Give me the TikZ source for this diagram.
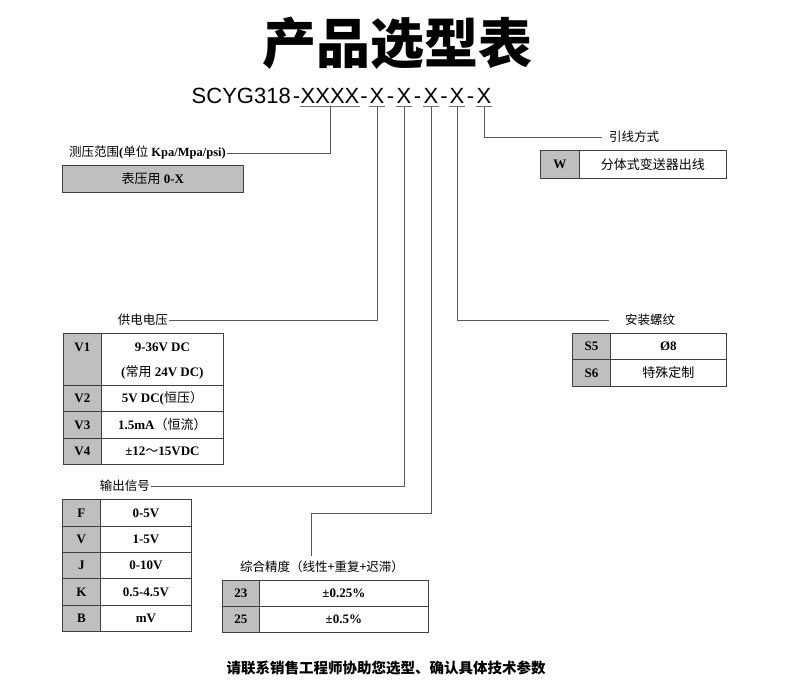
\documentclass[tikz,border=0pt]{standalone}
\usepackage{fontspec}
\setmainfont{Liberation Serif}
\setsansfont{Liberation Sans}
\newfontfamily\cjk{Noto Sans CJK SC}
\newcommand{\zh}[1]{{\cjk\mdseries #1}}
\usepackage{tikz}
\usetikzlibrary{positioning}

\begin{document}
\begin{tikzpicture}[
    x=1pt, y=-1pt,
    cell/.style={draw=black!75, line width=0.8pt, anchor=north west,
                 inner sep=0pt, align=center,
                 font=\bfseries\fontsize{13}{25}\selectfont},
    key/.style={cell, fill=black!25},
    lab/.style={font=\bfseries\fontsize{12.5}{15}\selectfont, inner sep=1pt},
    code/.style={font=\sffamily\fontsize{22}{24}\selectfont,
                 inner sep=0pt, anchor=base},
    uline/.style={draw=black!55, line width=0.9pt},
    conn/.style={draw=black!65, line width=0.9pt}
  ]
  \useasboundingbox (0,0) rectangle (790,697);

  % title and model code
  \node[font={\cjk\bfseries\fontsize{54}{60}\selectfont}] (title) at (397,43) {产品选型表};
  \node[code, anchor=base east] (pre) at (291,103) {SCYG318};
  \node[code] (h0) at (296.5,103) {-};
  \node[code] (xr) at (330,103) {XXXX};
  \node[code] (h1) at (364,103) {-};
  \node[code] (x1) at (377,103) {X};
  \node[code] (h2) at (390.5,103) {-};
  \node[code] (x2) at (404,103) {X};
  \node[code] (h3) at (417.5,103) {-};
  \node[code] (x3) at (431,103) {X};
  \node[code] (h4) at (444,103) {-};
  \node[code] (x4) at (457,103) {X};
  \node[code] (h5) at (470.5,103) {-};
  \node[code] (x5) at (484,103) {X};
  \draw[uline] ([yshift=-3pt]xr.base west) -- ([yshift=-3pt]xr.base east);
  \draw[uline] ([yshift=-3pt]x1.base west) -- ([yshift=-3pt]x1.base east);
  \draw[uline] ([yshift=-3pt]x2.base west) -- ([yshift=-3pt]x2.base east);
  \draw[uline] ([yshift=-3pt]x3.base west) -- ([yshift=-3pt]x3.base east);
  \draw[uline] ([yshift=-3pt]x4.base west) -- ([yshift=-3pt]x4.base east);
  \draw[uline] ([yshift=-3pt]x5.base west) -- ([yshift=-3pt]x5.base east);
  \coordinate (u0) at ([yshift=-3pt]xr.base);
  \coordinate (u1) at ([yshift=-3pt]x1.base);
  \coordinate (u2) at ([yshift=-3pt]x2.base);
  \coordinate (u3) at ([yshift=-3pt]x3.base);
  \coordinate (u4) at ([yshift=-3pt]x4.base);
  \coordinate (u5) at ([yshift=-3pt]x5.base);

  % pressure range
  \node[lab, anchor=east] (lrange) at (227,153)
    {\zh{测压范围}(\zh{单位} Kpa/Mpa/psi)};
  \node[key, minimum width=181pt, minimum height=27pt] (rbox) at (62,165)
    {\zh{表压用} 0-X};
  \draw[conn] (u0) |- (lrange.east);

  % lead wire
  \node[lab, anchor=west] (llead) at (608,137) {\zh{引线方式}};
  \node[key, minimum width=39pt, minimum height=28pt] (wk) at (540,150) {W};
  \node[cell, minimum width=147pt, minimum height=28pt] (wv) at (579,150)
    {\zh{分体式变送器出线}};
  \draw[conn, shorten >=6pt] (u5) |- (llead.west);

  % supply voltage
  \node[lab, anchor=east] (lvolt) at (169,320) {\zh{供电电压}};
  \node[key, minimum width=38pt, minimum height=52pt] (v1k) at (63,333)
    {\strut V1\\\strut};
  \node[cell, minimum width=122pt, minimum height=52pt] (v1v) at (101,333)
    {\strut 9-36V DC\\\strut(\zh{常用} 24V DC)};
  \node[key, minimum width=38pt, minimum height=26pt] (v2k) at (63,385) {V2};
  \node[cell, minimum width=122pt, minimum height=26pt] (v2v) at (101,385)
    {5V DC(\zh{恒压）}};
  \node[key, minimum width=38pt, minimum height=27pt] (v3k) at (63,411) {V3};
  \node[cell, minimum width=122pt, minimum height=27pt] (v3v) at (101,411)
    {1.5mA\zh{（恒流）}};
  \node[key, minimum width=38pt, minimum height=26pt] (v4k) at (63,438) {V4};
  \node[cell, minimum width=122pt, minimum height=26pt] (v4v) at (101,438)
    {±12\zh{～}15VDC};
  \draw[conn] (u1) |- (lvolt.east);

  % thread
  \node[lab, anchor=west] (lmount) at (624,320) {\zh{安装螺纹}};
  \node[key, minimum width=38pt, minimum height=26pt] (s5k) at (572,333) {S5};
  \node[cell, minimum width=116pt, minimum height=26pt] (s5v) at (610,333) {Ø8};
  \node[key, minimum width=38pt, minimum height=27pt] (s6k) at (572,359) {S6};
  \node[cell, minimum width=116pt, minimum height=27pt] (s6v) at (610,359)
    {\zh{特殊定制}};
  \draw[conn, shorten >=15pt] (u4) |- (lmount.west);

  % output signal
  \node[lab, anchor=east] (lout) at (151,486) {\zh{输出信号}};
  \node[key, minimum width=38pt, minimum height=27pt] (ofk) at (62,499) {F};
  \node[cell, minimum width=91pt, minimum height=27pt] (ofv) at (100,499) {0-5V};
  \node[key, minimum width=38pt, minimum height=26pt] (ovk) at (62,526) {V};
  \node[cell, minimum width=91pt, minimum height=26pt] (ovv) at (100,526) {1-5V};
  \node[key, minimum width=38pt, minimum height=26pt] (ojk) at (62,552) {J};
  \node[cell, minimum width=91pt, minimum height=26pt] (ojv) at (100,552) {0-10V};
  \node[key, minimum width=38pt, minimum height=27pt] (okk) at (62,578) {K};
  \node[cell, minimum width=91pt, minimum height=27pt] (okv) at (100,578) {0.5-4.5V};
  \node[key, minimum width=38pt, minimum height=26pt] (obk) at (62,605) {B};
  \node[cell, minimum width=91pt, minimum height=26pt] (obv) at (100,605) {mV};
  \draw[conn] (u2) |- (lout.east);

  % accuracy
  \node[lab] (lacc) at (322,567) {\zh{综合精度（线性+重复+迟滞）}};
  \node[key, minimum width=37pt, minimum height=26pt] (a23k) at (222,580) {23};
  \node[cell, minimum width=169pt, minimum height=26pt] (a23v) at (259,580) {±0.25\%};
  \node[key, minimum width=37pt, minimum height=26pt] (a25k) at (222,606) {25};
  \node[cell, minimum width=169pt, minimum height=26pt] (a25v) at (259,606) {±0.5\%};
  \coordinate (bend3) at (311,513);
  \draw[conn, shorten >=4pt] (u3) |- (bend3) -- (bend3 |- lacc.north);

  \node[font={\cjk\bfseries\fontsize{14.5}{16}\selectfont}] (note) at (386,668)
    {请联系销售工程师协助您选型、确认具体技术参数};
\end{tikzpicture}
\end{document}
